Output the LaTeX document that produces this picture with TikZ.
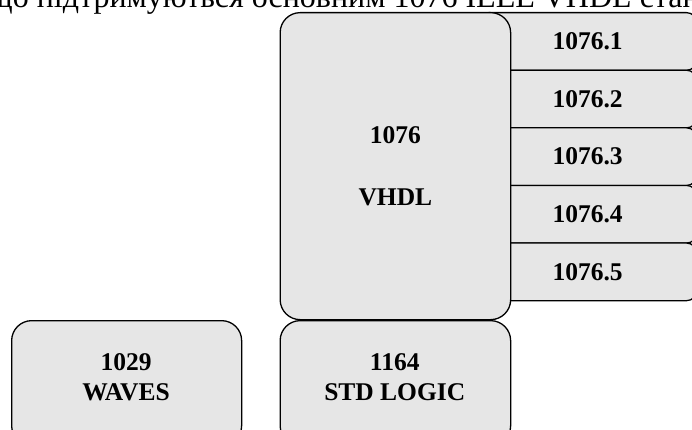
\documentclass[tikz,border=0pt]{standalone}
\usepackage{fontspec}
\setmainfont{Liberation Serif}
\definecolor{boxgray}{RGB}{230,230,230}
\tikzset{
  box/.style={draw=black, line width=1.3pt, fill=boxgray, inner sep=0pt},
  bigbox/.style={box, rounded corners=20pt},
  subbox/.style={box, rounded corners=10pt, minimum width=218pt, minimum height=57.6pt},
  lbl/.style={font=\bfseries\fontsize{25.5}{30}\selectfont, align=center, inner sep=0pt},
}
\begin{document}
\begin{tikzpicture}[x=1pt,y=-1pt]
\useasboundingbox (0,0) rectangle (692,430);
\clip (0,0) rectangle (692,430);
\node[anchor=base west, inner sep=0pt, font=\fontsize{32}{38}\selectfont] (title) at (-12,8) {що підтримуються основним 1076 IEEE VHDL стандартом};
% sub-standards (drawn first, partly hidden by the VHDL box)
\node[subbox, anchor=north west] (s1) at (478,12) {};
\node[subbox, anchor=north west] (s2) at (478,69.6) {};
\node[subbox, anchor=north west] (s3) at (478,127.2) {};
\node[subbox, anchor=north west] (s4) at (478,184.8) {};
\node[subbox, anchor=north west] (s5) at (478,242.4) {};
\node[lbl] (t1) at (s1.center) {1076.1};
\node[lbl] (t2) at (s2.center) {1076.2};
\node[lbl] (t3) at (s3.center) {1076.3};
\node[lbl] (t4) at (s4.center) {1076.4};
\node[lbl] (t5) at (s5.center) {1076.5};
% main VHDL box
\node[bigbox, anchor=north west, minimum width=230.5pt, minimum height=307pt] (vhdl) at (279.5,12) {};
\node[lbl] (vhdlt) at (vhdl.center) {1076\\[32pt]VHDL};
% bottom boxes
\node[bigbox, anchor=north west, minimum width=230.5pt, minimum height=125pt] (stdl) at (279.5,320) {};
\node[lbl] (stdlt) at (394.75,377.5) {1164\\STD LOGIC};
\node[bigbox, anchor=north west, minimum width=230pt, minimum height=125pt] (waves) at (11,320) {};
\node[lbl] (wavest) at (126,377.5) {1029\\WAVES};
\end{tikzpicture}
\end{document}
